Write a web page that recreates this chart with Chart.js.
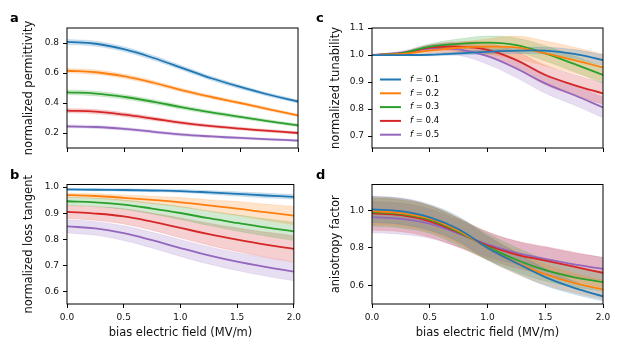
<!DOCTYPE html>
<html>
<head>
<meta charset="utf-8">
<script src="https://cdn.jsdelivr.net/npm/chart.js@4.4.1/dist/chart.umd.min.js"></script>
<style>
  body { margin: 0; background: #fff; width: 623px; height: 353px; position: relative; overflow: hidden; font-family: "DejaVu Sans", sans-serif; }
  canvas { position: absolute; }
  .tag { position: absolute; font-weight: bold; font-size: 13px; color: #000; line-height: 13px; }
</style>
</head>
<body>
<canvas id="chartA" width="305" height="165" style="left:0;top:0"></canvas>
<canvas id="chartB" width="305" height="183" style="left:0;top:170px"></canvas>
<canvas id="chartC" width="318" height="165" style="left:305px;top:0"></canvas>
<canvas id="chartD" width="318" height="183" style="left:305px;top:170px"></canvas>
<div class="tag" style="left:10px;top:11px">a</div>
<div class="tag" style="left:10px;top:168px">b</div>
<div class="tag" style="left:316px;top:11px">c</div>
<div class="tag" style="left:316px;top:168px">d</div>
<script>
// bias field samples (MV/m)
const fieldX = [0, 0.25, 0.5, 0.75, 1.0, 1.25, 1.5, 1.75, 2.0];
const fracLabels = ['0.1', '0.2', '0.3', '0.4', '0.5'];
const xTicks = [0, 0.5, 1.0, 1.5, 2.0];

// a: normalized permittivity (mean, half band width)
const permMean = [
    [0.807, 0.795, 0.757, 0.700, 0.633, 0.565, 0.507, 0.455, 0.410],
    [0.615, 0.605, 0.577, 0.535, 0.484, 0.440, 0.400, 0.358, 0.317],
    [0.471, 0.463, 0.440, 0.408, 0.371, 0.337, 0.307, 0.278, 0.251],
    [0.349, 0.342, 0.322, 0.295, 0.267, 0.246, 0.229, 0.214, 0.200],
    [0.244, 0.240, 0.227, 0.208, 0.189, 0.177, 0.167, 0.158, 0.149]
];
const permSpread = [
    [0.017, 0.017, 0.016, 0.015, 0.014, 0.013, 0.012, 0.011, 0.010],
    [0.015, 0.015, 0.014, 0.013, 0.012, 0.011, 0.010, 0.010, 0.009],
    [0.016, 0.016, 0.015, 0.014, 0.013, 0.012, 0.011, 0.010, 0.009],
    [0.014, 0.014, 0.013, 0.012, 0.011, 0.010, 0.009, 0.009, 0.008],
    [0.010, 0.010, 0.010, 0.009, 0.009, 0.008, 0.008, 0.007, 0.007]
];
const permTicks = [0.2, 0.4, 0.6, 0.8];

// b: normalized loss tangent
const lossMean = [
    [0.991, 0.990, 0.989, 0.987, 0.985, 0.980, 0.974, 0.968, 0.963],
    [0.969, 0.966, 0.959, 0.951, 0.942, 0.930, 0.918, 0.904, 0.891],
    [0.946, 0.942, 0.933, 0.918, 0.901, 0.881, 0.863, 0.846, 0.831],
    [0.905, 0.899, 0.888, 0.868, 0.844, 0.820, 0.799, 0.780, 0.764],
    [0.850, 0.842, 0.824, 0.797, 0.767, 0.739, 0.715, 0.695, 0.677]
];
const lossSpread = [
    [0.004, 0.004, 0.005, 0.005, 0.006, 0.007, 0.008, 0.009, 0.009],
    [0.008, 0.009, 0.011, 0.014, 0.018, 0.022, 0.027, 0.031, 0.035],
    [0.015, 0.016, 0.018, 0.021, 0.025, 0.028, 0.031, 0.033, 0.035],
    [0.025, 0.026, 0.029, 0.033, 0.038, 0.042, 0.045, 0.048, 0.050],
    [0.025, 0.026, 0.028, 0.030, 0.032, 0.033, 0.034, 0.035, 0.035]
];
const lossTicks = [0.6, 0.7, 0.8, 0.9, 1.0];

// c: normalized tunability
const tuneMean = [
    [1.000, 1.000, 1.001, 1.006, 1.012, 1.016, 1.016, 1.004, 0.981],
    [1.000, 1.004, 1.016, 1.027, 1.031, 1.028, 1.006, 0.981, 0.954],
    [1.000, 1.006, 1.031, 1.041, 1.046, 1.037, 1.006, 0.967, 0.926],
    [1.000, 1.006, 1.027, 1.031, 1.019, 0.981, 0.926, 0.889, 0.858],
    [1.000, 1.009, 1.024, 1.021, 0.996, 0.950, 0.895, 0.852, 0.806]
];
const tuneSpread = [
    [0.000, 0.002, 0.004, 0.006, 0.008, 0.010, 0.013, 0.016, 0.020],
    [0.000, 0.004, 0.010, 0.018, 0.028, 0.042, 0.046, 0.048, 0.050],
    [0.000, 0.004, 0.010, 0.018, 0.024, 0.026, 0.028, 0.029, 0.030],
    [0.000, 0.004, 0.010, 0.018, 0.025, 0.032, 0.036, 0.039, 0.040],
    [0.000, 0.005, 0.014, 0.022, 0.030, 0.034, 0.036, 0.037, 0.038]
];
const tuneTicks = [0.7, 0.8, 0.9, 1.0, 1.1];

// d: anisotropy factor
const anisoMean = [
    [1.005, 0.995, 0.962, 0.899, 0.800, 0.720, 0.645, 0.588, 0.543],
    [0.995, 0.985, 0.955, 0.890, 0.800, 0.722, 0.659, 0.614, 0.579],
    [0.991, 0.981, 0.950, 0.884, 0.806, 0.737, 0.682, 0.644, 0.618],
    [0.984, 0.974, 0.941, 0.881, 0.813, 0.765, 0.733, 0.700, 0.668],
    [0.964, 0.955, 0.929, 0.876, 0.819, 0.774, 0.742, 0.712, 0.689]
];
const anisoSpread = [
    [0.070, 0.070, 0.069, 0.067, 0.063, 0.055, 0.045, 0.034, 0.025],
    [0.070, 0.070, 0.069, 0.067, 0.064, 0.060, 0.055, 0.052, 0.050],
    [0.075, 0.075, 0.073, 0.072, 0.070, 0.065, 0.058, 0.052, 0.048],
    [0.090, 0.088, 0.084, 0.078, 0.073, 0.072, 0.074, 0.077, 0.080],
    [0.083, 0.082, 0.078, 0.072, 0.066, 0.062, 0.061, 0.061, 0.062]
];
const anisoTicks = [0.6, 0.8, 1.0];

const seriesColors = ['#1f77b4', '#ff7f0e', '#2ca02c', '#d62728', '#9467bd'];
const bandColors = ['rgba(31,119,180,0.22)', 'rgba(255,127,14,0.22)', 'rgba(44,160,44,0.22)', 'rgba(214,39,40,0.22)', 'rgba(148,103,189,0.22)'];

const FONT = '"DejaVu Sans"';

// black box round the plot area, like matplotlib spines
const framePlugin = {
    id: 'frame',
    afterDraw(chart) {
        const { ctx, chartArea: a } = chart;
        ctx.save();
        ctx.strokeStyle = '#000';
        ctx.lineWidth = 1;
        ctx.strokeRect(a.left, a.top, a.right - a.left, a.bottom - a.top);
        ctx.restore();
    }
};

// legend of panel c with italic f
const fLegendPlugin = {
    id: 'fLegend',
    afterDatasetsDraw(chart) {
        const ctx = chart.ctx;
        const x0 = 75, y0 = 79.5, dy = 13.8;
        ctx.save();
        ctx.textBaseline = 'middle';
        ctx.fillStyle = '#000';
        seriesColors.forEach((c, i) => {
            const y = y0 + i * dy;
            ctx.strokeStyle = c;
            ctx.lineWidth = 2;
            ctx.beginPath();
            ctx.moveTo(x0, y);
            ctx.lineTo(x0 + 21, y);
            ctx.stroke();
            ctx.font = 'italic 8.5px ' + FONT;
            ctx.fillText('f', x0 + 30, y);
            const w = ctx.measureText('f').width;
            ctx.font = '8.5px ' + FONT;
            ctx.fillText(' = ' + fracLabels[i], x0 + 30 + w, y);
        });
        ctx.restore();
    }
};

function makePanel(id, means, spreads, yMin, yMax, yTicks, yTitle, bottomRow, titlePad, withLegend) {
    const datasets = [];
    means.forEach((m, i) => {
        datasets.push({
            data: fieldX.map((x, k) => ({ x: x, y: m[k] })),
            borderColor: seriesColors[i],
            borderWidth: 1.8,
            pointRadius: 0,
            fill: false,
            tension: 0.4
        });
    });
    means.forEach((m, i) => {
        const s = spreads[i];
        datasets.push({
            data: fieldX.map((x, k) => ({ x: x, y: m[k] - s[k] })),
            borderColor: bandColors[i],
            borderWidth: 0.6,
            pointRadius: 0,
            fill: false,
            tension: 0.4
        });
        datasets.push({
            data: fieldX.map((x, k) => ({ x: x, y: m[k] + s[k] })),
            borderColor: bandColors[i],
            backgroundColor: bandColors[i],
            borderWidth: 0.6,
            pointRadius: 0,
            fill: '-1',
            tension: 0.4
        });
    });

    const canvas = document.getElementById(id);
    const topPad = bottomRow ? 14.5 : 28;
    const rightPad = canvas.width - 298;
    const xHeight = bottomRow ? 49 : canvas.height - 148;

    new Chart(canvas.getContext('2d'), {
        type: 'line',
        data: { datasets: datasets },
        options: {
            responsive: false,
            animation: false,
            events: [],
            layout: { padding: { top: topPad, right: rightPad, left: 0, bottom: 0 } },
            plugins: { legend: { display: false }, tooltip: { enabled: false } },
            scales: {
                x: {
                    type: 'linear',
                    min: 0,
                    max: 2,
                    afterBuildTicks: s => { s.ticks = xTicks.map(v => ({ value: v })); },
                    afterFit: s => { s.height = xHeight; },
                    border: { display: false },
                    grid: { drawOnChartArea: false, drawTicks: true, tickLength: 4, tickColor: '#000' },
                    ticks: {
                        callback: v => bottomRow ? v.toFixed(1) : '',
                        font: { family: FONT, size: 9 },
                        color: '#111',
                        padding: 4,
                        maxRotation: 0
                    },
                    title: {
                        display: bottomRow,
                        text: 'bias electric field (MV/m)',
                        font: { family: FONT, size: 11.5 },
                        color: '#111',
                        padding: { top: 0, bottom: 13 }
                    }
                },
                y: {
                    type: 'linear',
                    min: yMin,
                    max: yMax,
                    afterBuildTicks: s => { s.ticks = yTicks.map(v => ({ value: v })); },
                    afterFit: s => { s.width = 67; },
                    border: { display: false },
                    grid: { drawOnChartArea: false, drawTicks: true, tickLength: 4, tickColor: '#000' },
                    ticks: {
                        callback: v => v.toFixed(1),
                        font: { family: FONT, size: 9 },
                        color: '#111',
                        padding: 4
                    },
                    title: {
                        display: true,
                        text: yTitle,
                        font: { family: FONT, size: 11.5 },
                        color: '#111',
                        padding: { top: titlePad, bottom: 0 }
                    }
                }
            }
        },
        plugins: withLegend ? [framePlugin, fLegendPlugin] : [framePlugin]
    });
}

makePanel('chartA', permMean, permSpread, 0.1, 0.9, permTicks, 'normalized permittivity', false, 22, false);
makePanel('chartB', lossMean, lossSpread, 0.553, 1.01, lossTicks, 'normalized loss tangent', true, 22, false);
makePanel('chartC', tuneMean, tuneSpread, 0.656, 1.1, tuneTicks, 'normalized tunability', false, 24.5, true);
makePanel('chartD', anisoMean, anisoSpread, 0.502, 1.137, anisoTicks, 'anisotropy factor', true, 24.5, false);
</script>
</body>
</html>
